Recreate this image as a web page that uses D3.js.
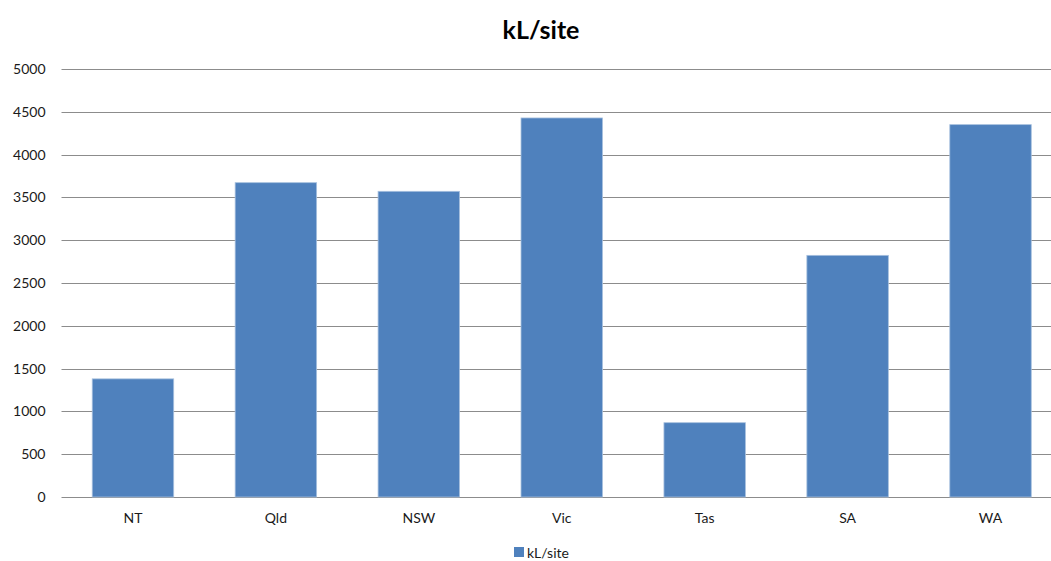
<!DOCTYPE html>
<html>
<head>
<meta charset="utf-8">
<script src="https://cdn.jsdelivr.net/npm/d3@7"></script>
<style>
  html, body { margin: 0; padding: 0; background: #fff; }
  svg { display: block; font-family: Lato, "Open Sans", sans-serif; }
</style>
</head>
<body>
<svg id="chart" width="1051" height="561"></svg>
<script>
// Water use per site, by state/territory
const categories = ["NT", "Qld", "NSW", "Vic", "Tas", "SA", "WA"];
const values = [1380, 3672, 3571, 4428, 868, 2823, 4350];
const yTicks = [0, 500, 1000, 1500, 2000, 2500, 3000, 3500, 4000, 4500, 5000];
const seriesName = "kL/site";
const title = "kL/site";

const svg = d3.select("#chart");
const margin = { left: 61.5, right: -11, top: 69, bottom: 64 };
const W = 1051, H = 561;

const x = d3.scaleBand()
  .domain(categories)
  .range([margin.left, W - margin.right])
  .paddingInner(0.43)
  .paddingOuter(0.215);

const y = d3.scaleLinear()
  .domain([0, 5000])
  .range([H - margin.bottom, margin.top]);

// Gridlines
svg.append("g")
  .selectAll("line")
  .data(yTicks)
  .join("line")
  .attr("x1", margin.left)
  .attr("x2", W)
  .attr("y1", d => Math.round(y(d)) + 0.5)
  .attr("y2", d => Math.round(y(d)) + 0.5)
  .attr("stroke", "#8c8c8c")
  .attr("stroke-width", 1);

// Y axis labels
const yAxis = d3.axisLeft(y).tickValues(yTicks).tickFormat(d3.format("d")).tickSize(0).tickPadding(0);
const gy = svg.append("g")
  .attr("transform", `translate(${margin.left - 16},0)`)
  .call(yAxis);
gy.select(".domain").remove();
gy.selectAll("text")
  .attr("font-size", 14)
  .attr("fill", "#1a1a1a")
  .attr("font-family", "Lato, sans-serif");

// Bars
svg.append("g")
  .selectAll("rect")
  .data(values)
  .join("rect")
  .attr("x", (d, i) => x(categories[i]))
  .attr("width", x.bandwidth())
  .attr("y", d => y(d))
  .attr("height", d => y(0) - y(d))
  .attr("fill", "#4f81bd")
  .attr("stroke", "#a7c0de")
  .attr("stroke-width", 0.8);

// X axis labels
const xAxis = d3.axisBottom(x).tickSize(0).tickPadding(0);
const gx = svg.append("g")
  .attr("transform", `translate(0,${y(0) + 16})`)
  .call(xAxis);
gx.select(".domain").remove();
gx.selectAll("text")
  .attr("font-size", 14)
  .attr("fill", "#1a1a1a")
  .attr("font-family", "Lato, sans-serif");

// Title
svg.append("text")
  .attr("x", 541)
  .attr("y", 39)
  .attr("text-anchor", "middle")
  .attr("font-size", 25)
  .attr("font-weight", "bold")
  .attr("fill", "#000")
  .text(title);

// Legend
const legend = svg.append("g").attr("transform", "translate(514,547)");
legend.append("rect")
  .attr("width", 10).attr("height", 10)
  .attr("fill", "#4f81bd");
legend.append("text")
  .attr("x", 13).attr("y", 10.5)
  .attr("font-size", 14)
  .attr("fill", "#1a1a1a")
  .text(seriesName);
</script>
</body>
</html>
